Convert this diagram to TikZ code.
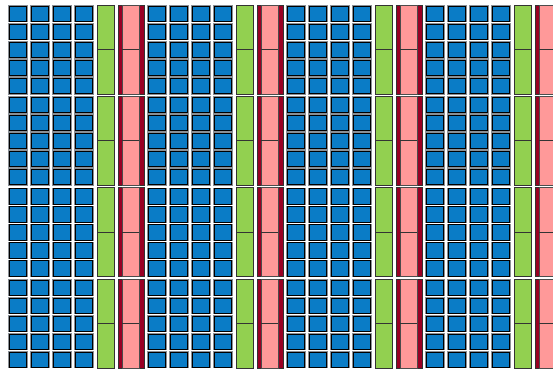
\documentclass[tikz,border=0pt]{standalone}
\definecolor{bsq}{HTML}{0A7CC6}
\definecolor{gbar}{HTML}{92D050}
\definecolor{pbar}{HTML}{FF9999}
\definecolor{dred}{HTML}{990024}
\definecolor{shad}{HTML}{8A9096}
\tikzset{
  sq/.style={fill=bsq,draw=black,line width=0.7pt},
  sqshadow/.style={fill=shad},
  gb/.style={fill=gbar,draw=black!80,line width=0.7pt},
  rb/.style={fill=dred,draw=black!80,line width=0.7pt},
  pb/.style={fill=pbar,draw=black!70,line width=0.6pt}
}
\begin{document}
\begin{tikzpicture}[x=1pt,y=-1pt]
\useasboundingbox (0,0) rectangle (553,369);
\fill[white] (0,0) rectangle (553,369);
\begin{scope}
\clip (0,0) rectangle (553,369);
\foreach \i in {0,1,2,3}{
  \foreach \j in {0,1,2,3}{
    \pgfmathsetmacro{\bx}{139*\i}
    \pgfmathsetmacro{\by}{5+91.3*\j}
    \foreach \c in {0,1,2,3}{
      \foreach \r in {0,1,2,3,4}{
        \pgfmathsetmacro{\xa}{\bx+9+22*\c}
        \pgfmathsetmacro{\ya}{\by+1+18*\r}
        \fill[sqshadow] (\xa-1,\ya-1) rectangle ++(19.5,17.5);
        \draw[sq] (\xa,\ya) rectangle ++(17.5,15.5);
      }
    }
    % green bar
    \draw[gb] (\bx+97,\by) rectangle (\bx+114.3,\by+89);
    \draw[black!80,line width=0.7pt] (\bx+97,\by+44.3) -- (\bx+114.3,\by+44.3);
    % red bar
    \draw[rb] (\bx+118.3,\by) rectangle (\bx+144.3,\by+89);
    \draw[pb] (\bx+122.3,\by) rectangle (\bx+139.3,\by+89);
    \draw[black!80,line width=0.7pt] (\bx+122.3,\by+44.3) -- (\bx+139.3,\by+44.3);
  }
}
\end{scope}
\end{tikzpicture}
\end{document}
